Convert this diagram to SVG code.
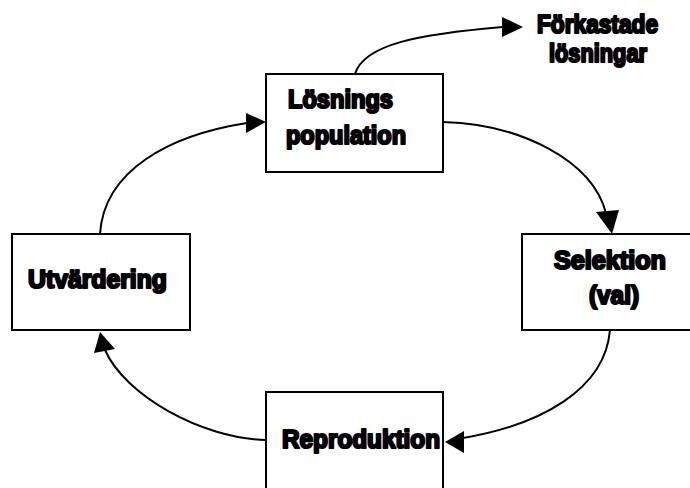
<svg xmlns="http://www.w3.org/2000/svg" width="690" height="488" viewBox="0 0 690 488">
<style>
.box{fill:#fff;stroke:#000;stroke-width:2}
.lbl{font-family:"Liberation Sans",Arial,sans-serif;font-weight:bold;font-size:25px;fill:#000;stroke:#000;stroke-width:2.2;stroke-linejoin:round}
.edge{fill:none;stroke:#000;stroke-width:2}
.head{fill:#000;stroke:none}
</style>
<rect width="690" height="488" fill="#fff"/>
<g id="connectors">
<path class="edge" d="M355,74 C364,44 420,34 503,27"/>
<polygon class="head" points="523,27 502,17 502,37"/>
<path class="edge" d="M443,122 C520,124 592,160 606,213"/>
<polygon class="head" points="612,234 596,212 619,210"/>
<path class="edge" d="M610,330 C605,390 540,425 463,438"/>
<polygon class="head" points="445,442 464,431 464,453"/>
<path class="edge" d="M266,440 C200,438 125,395 105,350"/>
<polygon class="head" points="100,332 94,353 115,349"/>
<path class="edge" d="M100,234 C104,170 170,135 247,123"/>
<polygon class="head" points="266,122 246,113 246,133"/>
</g>
<g id="losnings">
<rect class="box" x="266" y="74" width="177" height="98"/>
<text class="lbl" x="288" y="108" textLength="105" lengthAdjust="spacingAndGlyphs">Lösnings</text>
<text class="lbl" x="286" y="144" textLength="120" lengthAdjust="spacingAndGlyphs">population</text>
</g>
<g id="forkastade">
<text class="lbl" x="537" y="33" textLength="121" lengthAdjust="spacingAndGlyphs">Förkastade</text>
<text class="lbl" x="549" y="62" textLength="98" lengthAdjust="spacingAndGlyphs">lösningar</text>
</g>
<g id="selektion">
<rect class="box" x="522" y="234" width="172" height="96"/>
<text class="lbl" x="554" y="269" textLength="112" lengthAdjust="spacingAndGlyphs">Selektion</text>
<text class="lbl" x="589" y="304" textLength="50" lengthAdjust="spacingAndGlyphs">(val)</text>
</g>
<g id="reproduktion">
<rect class="box" x="266" y="392" width="177" height="100"/>
<text class="lbl" x="282" y="448" textLength="158" lengthAdjust="spacingAndGlyphs">Reproduktion</text>
</g>
<g id="utvardering">
<rect class="box" x="12" y="234" width="178" height="96"/>
<text class="lbl" x="28" y="288" textLength="139" lengthAdjust="spacingAndGlyphs">Utvärdering</text>
</g>
</svg>
